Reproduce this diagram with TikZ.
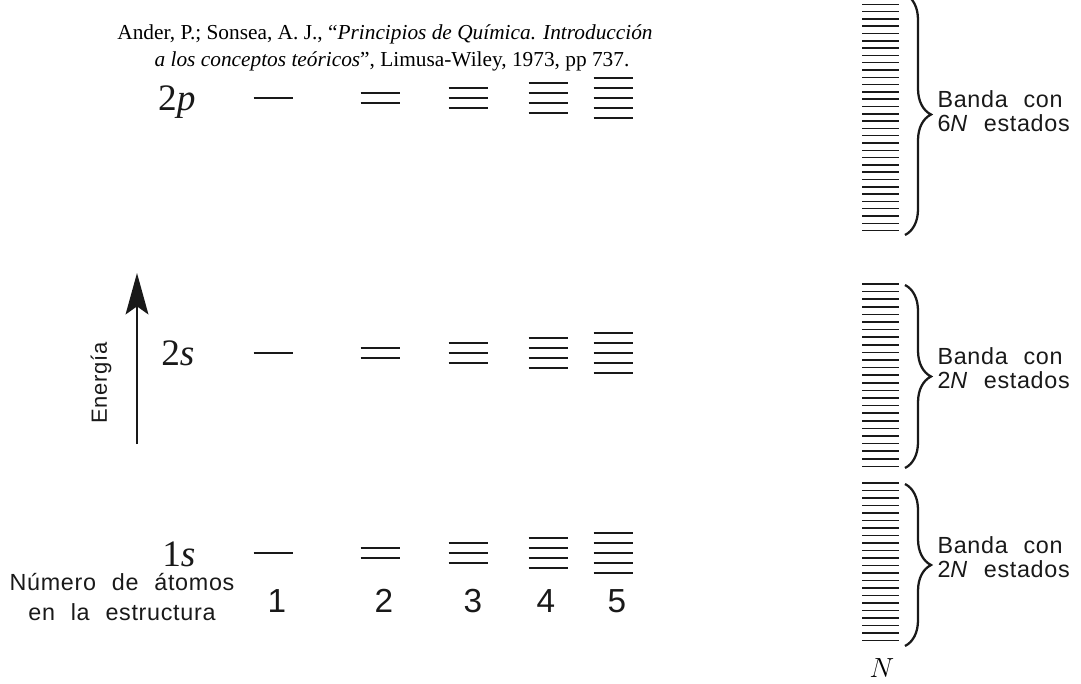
\documentclass[tikz,border=0pt]{standalone}
\usepackage[no-math]{fontspec}
\setmainfont{Liberation Serif}
\newfontfamily\labelfont[WordSpace=2.2,LetterSpace=3]{Liberation Sans}
\usetikzlibrary{arrows.meta,decorations.pathreplacing}

\definecolor{ink}{RGB}{25,25,25}
\tikzset{every picture/.style={line width=0.75pt}}
\tikzset{
  level/.style={draw=ink, line width=1.8pt},
  state/.style={draw=ink, line width=1.1pt},
  bandbrace/.style={draw=ink, line width=1.7pt, decorate,
    decoration={brace, amplitude=19.5pt}},
  orbital/.style={anchor=base east, inner sep=0.75pt, text=ink,
    font=\fontsize{28}{30}\selectfont},
  bandtext/.style={anchor=base west, inner sep=0.75pt, text=ink,
    font=\labelfont\fontsize{17.5}{20}\selectfont},
  atomnum/.style={anchor=base, inner sep=0.75pt, text=ink,
    font=\labelfont\fontsize{25}{28}\selectfont},
}

\begin{document}
\begin{tikzpicture}[x=0.75pt,y=0.75pt,yscale=-1,xscale=1]
\useasboundingbox (0,0) rectangle (1081,683);

% Reference line
\node [anchor=base, inner sep=0.75pt, font=\fontsize{16}{18}\selectfont] (cite1) at (385,39)
  {Ander, P.; Sonsea, A. J., “\textit{Principios de Química. Introducción}};
\node [anchor=base, inner sep=0.75pt, font=\fontsize{16}{18}\selectfont] (cite2) at (392,66)
  {\textit{a los conceptos teóricos}”, Limusa-Wiley, 1973, pp 737.};

% Energy levels for 1 to 5 atoms
\foreach \row in {98,353,553} {
  \foreach \col/\xc in {1/273,2/380,3/468,4/548,5/613} {
    \foreach \k in {1,...,\col} {
      \draw [level] ({\xc-19.5},{\row+(\k-(\col+1)/2)*10}) -- ++(39,0);
    }
  }
}

% Text Node
\node [orbital] (lbl2p) at (197,110) {2\textit{p}};
% Text Node
\node [orbital] (lbl2s) at (196,365) {2\textit{s}};
% Text Node
\node [orbital] (lbl1s) at (197,566) {1\textit{s}};

% Energy arrow
\coordinate (elow) at (137,444);
\coordinate (ehigh) at (137,273);
\draw [ink, line width=2.2pt, -{Stealth[length=31pt,width=17pt,inset=6pt]}] (elow) -- (ehigh);
\node [rotate=90, inner sep=0.75pt, text=ink, font=\labelfont\fontsize{16.5}{18}\selectfont] (energy) at (101,383) {Energía};

% Atom counts
\node [anchor=base, inner sep=0.75pt, text=ink, font=\labelfont\fontsize{17.5}{20}\selectfont] (count1) at (122,590) {Número de átomos};
\node [anchor=base, inner sep=0.75pt, text=ink, font=\labelfont\fontsize{17.5}{20}\selectfont] (count2) at (122,620) {en la estructura};
\node [atomnum] (n1) at (277,612) {1};
\node [atomnum] (n2) at (384,612) {2};
\node [atomnum] (n3) at (473,612) {3};
\node [atomnum] (n4) at (546,612) {4};
\node [atomnum] (n5) at (617,612) {5};

% Bands of N atoms
\foreach \y in {-3,4.3,...,234} { \draw [state] (862,\y) -- (899,\y); }
\foreach \y in {284,291.6,...,468} { \draw [state] (862,\y) -- (899,\y); }
\foreach \y in {483,490.5,...,646} { \draw [state] (862,\y) -- (899,\y); }

\draw [bandbrace] (905,-6) -- (905,235);
\draw [bandbrace] (905,285) -- (905,468);
\draw [bandbrace] (905,484) -- (905,646);

% Text Node
\node [bandtext] (b2p1) at (936,107) {Banda con};
\node [bandtext] (b2p2) at (936,131) {6\textit{N} estados};
\node [bandtext] (b2s1) at (936,364) {Banda con};
\node [bandtext] (b2s2) at (936,388) {2\textit{N} estados};
\node [bandtext] (b1s1) at (936,553) {Banda con};
\node [bandtext] (b1s2) at (936,577) {2\textit{N} estados};
\node [anchor=base, inner sep=0pt, font=\fontsize{21}{24}\selectfont] (bigN) at (882,677) {$N$};

\end{tikzpicture}
\end{document}
